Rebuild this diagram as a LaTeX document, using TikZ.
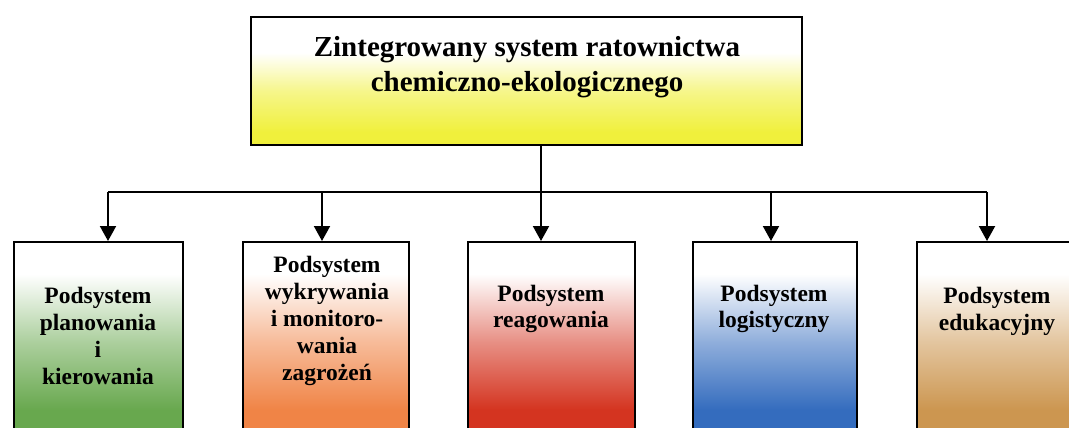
\documentclass[tikz,border=0pt]{standalone}
\usepackage{fontspec}
\setmainfont{Liberation Serif}
\usetikzlibrary{arrows.meta}
\definecolor{cgreen}{RGB}{104,168,78}
\definecolor{corange}{RGB}{240,132,70}
\definecolor{cred}{RGB}{212,52,32}
\definecolor{cblue}{RGB}{52,108,190}
\definecolor{ctan}{RGB}{204,150,80}
\definecolor{cyel}{RGB}{240,240,60}
\newcommand\mkshade[2]{\pgfdeclareverticalshading{#1}{100bp}{color(0bp)=(#2); color(33bp)=(#2); color(50bp)=(#2!55!white); color(67bp)=(white); color(100bp)=(white)}}
\mkshade{sgreen}{cgreen}
\mkshade{sorange}{corange}
\mkshade{sred}{cred}
\mkshade{sblue}{cblue}
\mkshade{stan}{ctan}
\pgfdeclareverticalshading{syel}{100bp}{color(0bp)=(cyel); color(30bp)=(cyel); color(46bp)=(cyel!60!white); color(61bp)=(white); color(100bp)=(white)}
\begin{document}
\begin{tikzpicture}[x=1pt,y=-1pt,
  box/.style={draw=black, line width=2pt, rectangle, inner sep=0pt, anchor=north west},
  sub/.style={box, minimum width=169pt, minimum height=200pt},
  lbl/.style={font=\bfseries\fontsize{23.5pt}{26.8pt}\selectfont, align=center, inner sep=0pt},
  conn/.style={line width=2pt},
  arr/.style={conn, -{Triangle[width=16pt,length=15pt]}}]
\useasboundingbox (0,0) rectangle (1069,428);
\clip (0,0) rectangle (1069,428);
\fill[white] (0,0) rectangle (1069,428);
% top box
\node[box, minimum width=551pt, minimum height=128pt, shading=syel] (top) at (250,16) {};
\node[font=\bfseries\fontsize{29pt}{35pt}\selectfont, align=center, inner sep=0pt] (toplbl) at (527,67) {Zintegrowany system ratownictwa\\chemiczno-ekologicznego};
% sub boxes
\node[sub, shading=sgreen] (b1) at (13,241) {};
\node[sub, minimum width=166pt, shading=sorange] (b2) at (242,241) {};
\node[sub, minimum width=167pt, shading=sred] (b3) at (467,241) {};
\node[sub, minimum width=164pt, shading=sblue] (b4) at (692,241) {};
\node[sub, shading=stan] (b5) at (916,241) {};
\node[lbl] (t1) at (98,336) {Podsystem\\planowania\\i\\kierowania};
\node[lbl] (t2) at (327,321) {Podsystem\\wykrywania\\i monitoro-\\wania\\zagrożeń};
\node[lbl] (t3) at (551,309) {Podsystem\\reagowania};
\node[lbl] (t4) at (774,309) {Podsystem\\logistyczny};
\node[lbl] (t5) at (997,311) {Podsystem\\edukacyjny};
% connectors
\coordinate (j1) at (108,192);
\coordinate (j2) at (322,192);
\coordinate (j3) at (541,192);
\coordinate (j4) at (771,192);
\coordinate (j5) at (987,192);
\draw[conn] (j1) -- (j5);
\draw[arr] (top.south -| j3) -- (j3 |- b3.north);
\draw[arr] (j1) -- (j1 |- b1.north);
\draw[arr] (j2) -- (j2 |- b2.north);
\draw[arr] (j4) -- (j4 |- b4.north);
\draw[arr] (j5) -- (j5 |- b5.north);
\end{tikzpicture}
\end{document}
